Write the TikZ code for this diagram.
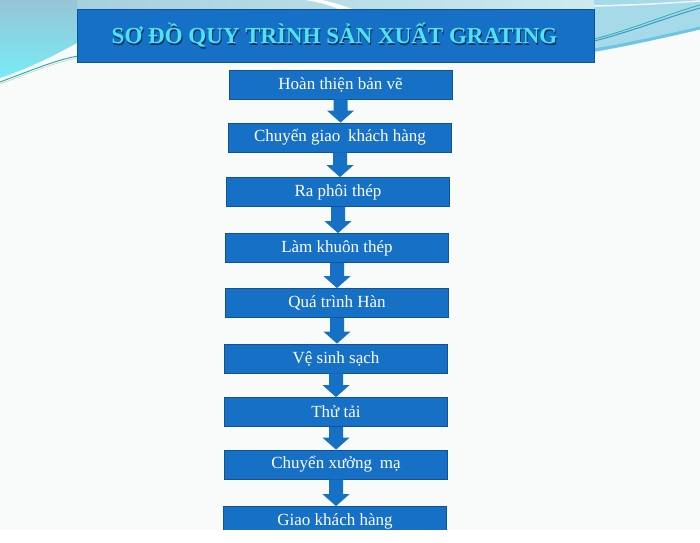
\documentclass[tikz,border=0pt]{standalone}
\usepackage{fontspec}
\setmainfont{Liberation Serif}
\usetikzlibrary{calc}
\definecolor{boxblue}{RGB}{22,112,198}
\definecolor{boxedge}{RGB}{16,82,150}
\definecolor{titlecyan}{RGB}{78,226,242}
\definecolor{titleshade}{RGB}{10,50,95}
\definecolor{slidebg}{RGB}{249,250,250}
\definecolor{lefttop}{RGB}{150,196,214}
\definecolor{leftbot}{RGB}{120,236,246}
\definecolor{swtop}{RGB}{165,208,222}
\definecolor{swtopr}{RGB}{205,234,240}
\definecolor{rightfill}{RGB}{166,218,232}
\definecolor{rightedge}{RGB}{110,196,228}
\definecolor{streakblue}{RGB}{60,150,208}
\definecolor{streakteal}{RGB}{40,178,170}
\newcommand\flowarrow[2]{%
  \fill[boxblue] ($(#1.south)+(-7,0)$) -- ($(#1.south)+(7,0)$)
    -- ($(#1.south|-#2.north)+(7,-12)$) -- ++(6.5,0)
    -- (#1.south|-#2.north)
    -- ($(#1.south|-#2.north)+(-13.5,-12)$) -- ++(6.5,0) -- cycle;}
\begin{document}
\begin{tikzpicture}[x=1pt,y=-1pt,
  stepbox/.style={draw=boxedge, line width=0.8pt, fill=boxblue,
    minimum width=223pt, minimum height=29pt, inner sep=0pt,
    text=white, font=\fontsize{17}{17}\selectfont},
  titlebox/.style={draw=boxedge, line width=1pt, fill=boxblue,
    minimum width=517pt, minimum height=53pt, inner sep=0pt},
  titletext/.style={inner sep=0pt, font=\fontsize{23}{23}\selectfont\bfseries}
]
\useasboundingbox (0,0) rectangle (700,542);
\fill[white] (0,0) rectangle (700,542);
\fill[slidebg] (0,0) rectangle (700,530);
% top strip
\shade[left color=swtop, right color=swtopr] (77,0) rectangle (594,9);
\fill[white] (305,0) -- (322,0) .. controls (335,3) and (345,6) .. (352,9) -- (338,9) .. controls (330,5) and (318,2) .. cycle;
% left swoosh
\shade[top color=lefttop, bottom color=leftbot]
  (0,0) -- (77,0) -- (77,43)
  .. controls (55,55) and (30,68) .. (0,78) -- cycle;
\draw[streakteal, line width=1pt] (0,82) .. controls (30,71) and (55,60) .. (78,56);
\draw[gray!40, line width=0.6pt] (0,84) .. controls (30,73) and (55,62) .. (78,58);
% right swoosh
\fill[rightfill] (594,0) -- (700,0) -- (700,29)
  .. controls (670,36) and (630,46) .. (594,52) -- cycle;
\draw[rightedge, line width=3pt] (594,50) .. controls (630,44) and (670,35) .. (700,28);
\draw[streakblue, line width=1pt] (594,41) .. controls (630,32) and (665,18) .. (700,8);
\draw[streakteal, line width=0.8pt] (594,39) .. controls (630,30) and (665,15) .. (700,5);
\draw[white!80!rightfill, line width=1.5pt] (594,6) .. controls (640,5) and (670,3) .. (700,1);
% title
\node[titlebox] (title) at (335.5,35.5) {};
\node[titletext, text=titleshade] (titleshadow) at (335.5,36.8) {SƠ ĐỒ QUY TRÌNH SẢN XUẤT GRATING};
\node[titletext, text=titlecyan] (titlelabel) at (334.5,35.5) {SƠ ĐỒ QUY TRÌNH SẢN XUẤT GRATING};
% steps
\node[stepbox] (s1) at (340.5,84.5) {Hoàn thiện bản vẽ};
\node[stepbox] (s2) at (340,137.5) {Chuyển giao\hspace{0.2em} khách hàng};
\node[stepbox] (s3) at (338,192) {Ra phôi thép};
\node[stepbox] (s4) at (337,248) {Làm khuôn thép};
\node[stepbox] (s5) at (337,303) {Quá trình Hàn};
\node[stepbox] (s6) at (336,358.5) {Vệ sinh sạch};
\node[stepbox] (s7) at (336,412) {Thử tải};
\node[stepbox] (s8) at (336,464.5) {Chuyển xưởng\hspace{0.2em} mạ};
\begin{scope}
\clip (0,0) rectangle (700,530);
\node[stepbox] (s9) at (335,521) {Giao khách hàng};
\end{scope}
\fill[white] (0,530) rectangle (700,542);
\flowarrow{s1}{s2}
\flowarrow{s2}{s3}
\flowarrow{s3}{s4}
\flowarrow{s4}{s5}
\flowarrow{s5}{s6}
\flowarrow{s6}{s7}
\flowarrow{s7}{s8}
\flowarrow{s8}{s9}
\end{tikzpicture}
\end{document}
